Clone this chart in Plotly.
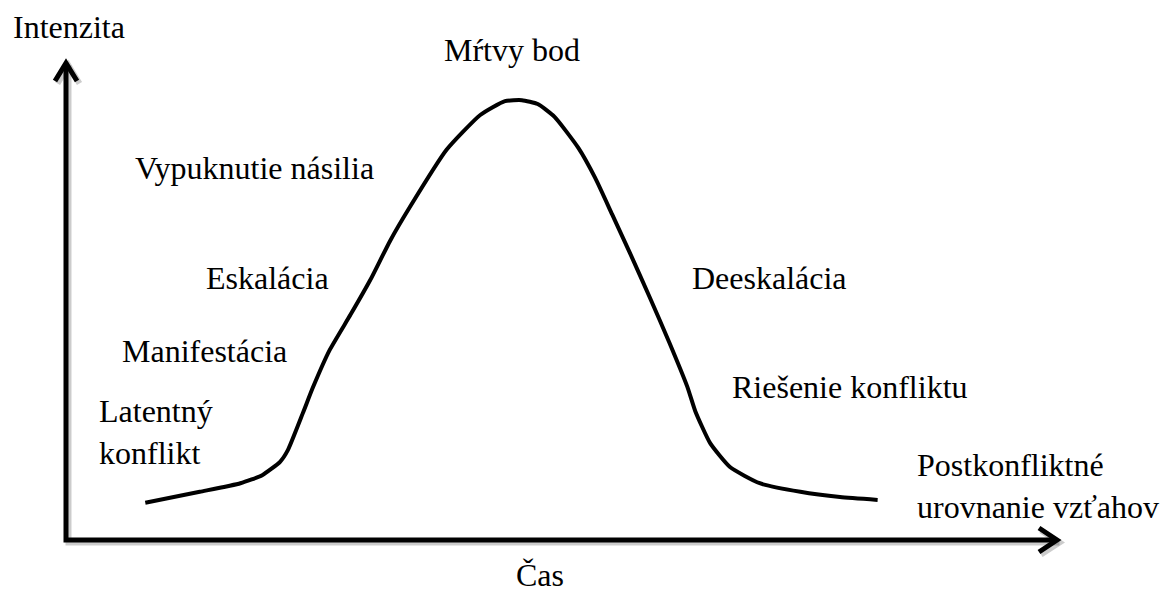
import plotly.graph_objects as go

# ---- data (time vs. intensity of a conflict, arbitrary units 0-100) ----
time_pts = [8.0, 13.5, 17.6, 19.8, 21.6, 22.4, 23.9, 24.9, 26.6, 28.7, 30.7, 32.7,
            34.7, 38.4, 41.8, 44.3, 46.0, 47.6, 49.3, 51.7, 53.4, 55.1, 56.9, 58.9,
            60.9, 62.7, 63.5, 65.0, 67.0, 70.0, 74.1, 78.1, 81.9]
intensity_pts = [7.8, 10.1, 11.9, 13.6, 16.4, 18.9, 26.6, 31.9, 39.8, 47.2, 54.5, 62.7,
                 69.8, 81.8, 89.1, 92.0, 92.2, 91.4, 88.7, 82.2, 75.9, 68.3, 60.2, 50.9,
                 41.3, 32.1, 27.0, 20.3, 15.3, 11.9, 10.1, 9.0, 8.4]

stage_labels = ["Latentný<br>konflikt", "Manifestácia", "Eskalácia", "Vypuknutie násilia",
                "Mŕtvy bod", "Deeskalácia", "Riešenie konfliktu",
                "Postkonfliktné<br>urovnanie vzťahov"]
stage_x = [3.1, 5.4, 13.9, 6.8, 45.0, 63.0, 67.0, 85.7]
stage_y = [22.6, 39.6, 54.9, 78.0, 102.7, 54.9, 32.1, 11.3]
stage_anchor = ["left", "left", "left", "left", "center", "left", "left", "left"]

y_axis_title = "Intenzita"
x_axis_title = "Čas"

# ---- figure geometry (page body has an 8px margin) ----
W, H = 1171, 606
OFF = 8
FW, FH = W - 2 * OFF, H - 2 * OFF
X0_PX, X100_PX = 66 - OFF, 1057 - OFF      # where time 0 / 100 lie
Y0_PX, Y100_PX = 540 - OFF, 63 - OFF       # where intensity 0 / 100 lie
px_per_x = (X100_PX - X0_PX) / 100.0
px_per_y = (Y0_PX - Y100_PX) / 100.0
x_range = [-X0_PX / px_per_x, 100 + (FW - X100_PX) / px_per_x]
y_range = [-(FH - Y0_PX) / px_per_y, 100 + Y100_PX / px_per_y]

FONT = dict(family="Liberation Serif, Times New Roman, serif", size=32, color="black")

fig = go.Figure()
fig.add_trace(go.Scatter(
    x=time_pts, y=intensity_pts, mode="lines",
    line=dict(color="black", width=4, shape="spline", smoothing=0.5),
    hoverinfo="skip", showlegend=False,
))

shapes = []
# shadow of axes
sx, sy = 2.5 / px_per_x, 2.5 / px_per_y
shadow = dict(color="rgba(0,0,0,0.20)", width=6)
shapes.append(dict(type="path", xref="x", yref="y",
                   path=f"M {sx},{100 - sy} L {sx},{-sy} L {100 + sx},{-sy}",
                   line=shadow))
shapes.append(dict(type="path", xref="x", yref="y", xsizemode="pixel", ysizemode="pixel",
                   xanchor=100, yanchor=0, path="M -16,9.5 L 2.5,-2.5 L -16,-14.5",
                   line=shadow))
shapes.append(dict(type="path", xref="x", yref="y", xsizemode="pixel", ysizemode="pixel",
                   xanchor=0, yanchor=100, path="M -8.5,-20.5 L 2.5,-2.5 L 13.5,-20.5",
                   line=shadow))
# axes
axis_line = dict(color="black", width=5)
shapes.append(dict(type="path", xref="x", yref="y",
                   path="M 0,100 L 0,0 L 100,0", line=axis_line))
# arrow heads (pixel-sized, anchored at axis tips)
shapes.append(dict(type="path", xref="x", yref="y", xsizemode="pixel", ysizemode="pixel",
                   xanchor=100, yanchor=0, path="M -18,12 L 0,0 L -18,-12",
                   line=axis_line))
shapes.append(dict(type="path", xref="x", yref="y", xsizemode="pixel", ysizemode="pixel",
                   xanchor=0, yanchor=100, path="M -11,-18 L 0,0 L 11,-18",
                   line=axis_line))

annotations = []
for txt, x, y, a in zip(stage_labels, stage_x, stage_y, stage_anchor):
    annotations.append(dict(text=txt, x=x, y=y, xref="x", yref="y", xanchor=a,
                            yanchor="middle", align="left", showarrow=False, font=FONT))
annotations.append(dict(text=y_axis_title, x=-5.4, y=107.6, xref="x", yref="y",
                        xanchor="left", yanchor="middle", showarrow=False, font=FONT,
                        borderpad=0))
annotations.append(dict(text=x_axis_title, x=47.8, y=-7.3, xref="x", yref="y",
                        xanchor="center", yanchor="middle", showarrow=False, font=FONT))

fig.update_layout(
    width=FW, height=FH,
    margin=dict(l=0, r=0, t=0, b=0, pad=0),
    paper_bgcolor="white", plot_bgcolor="white",
    xaxis=dict(range=x_range, visible=False, fixedrange=True),
    yaxis=dict(range=y_range, visible=False, fixedrange=True),
    shapes=shapes, annotations=annotations, showlegend=False,
)

fig.write_html("out.html")
